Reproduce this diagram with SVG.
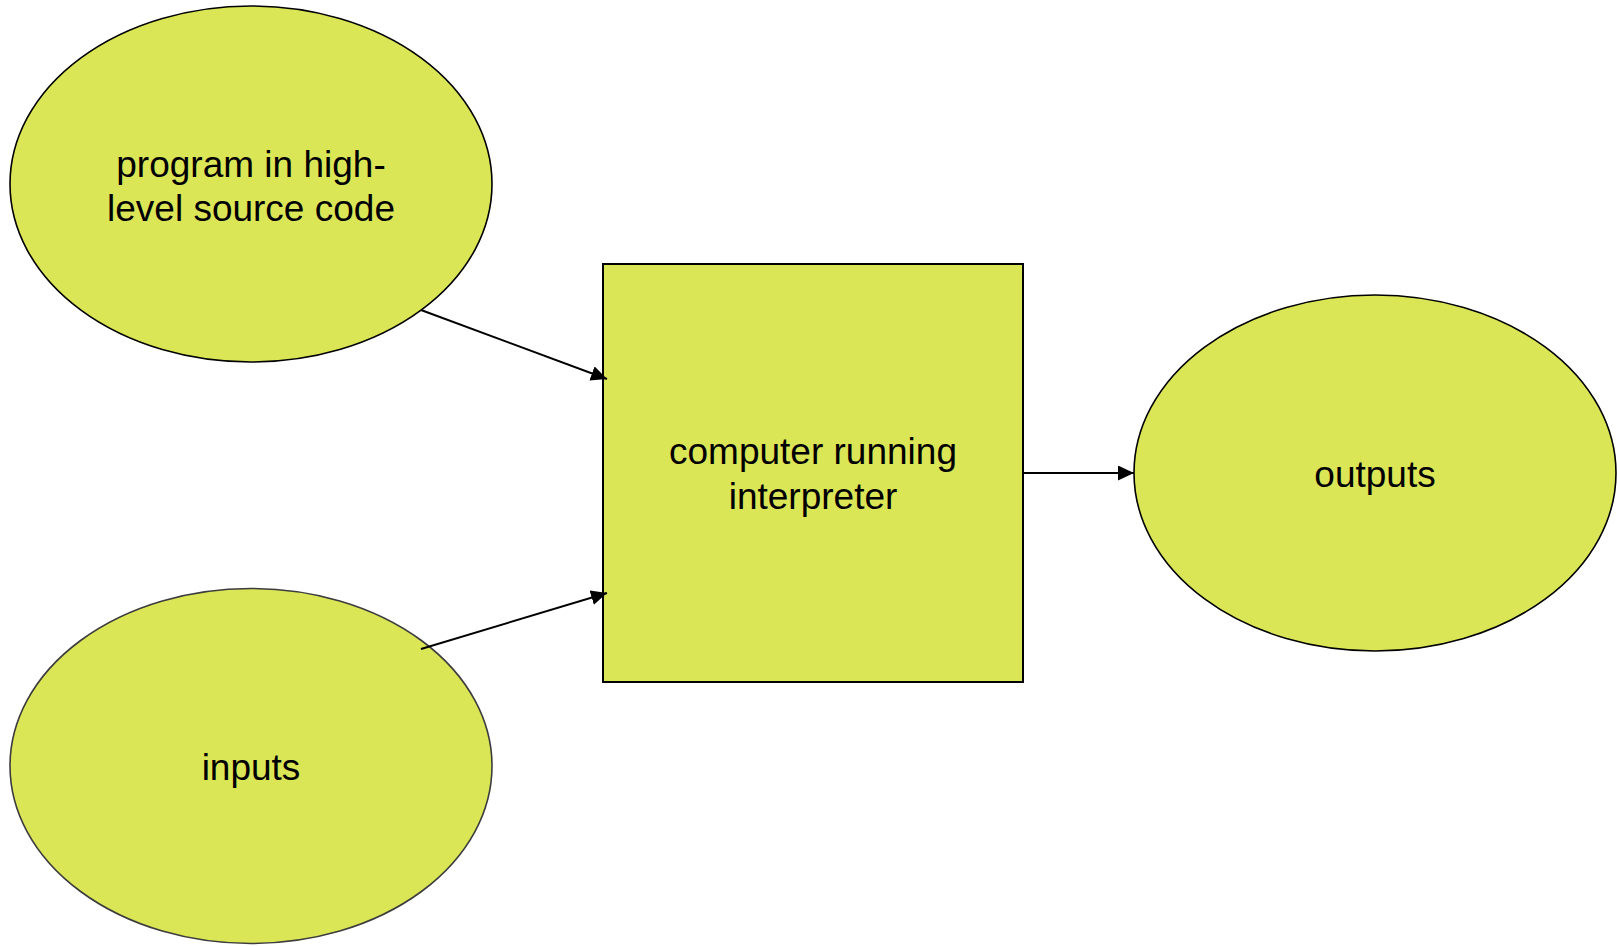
<svg xmlns="http://www.w3.org/2000/svg" width="1617" height="946" viewBox="0 0 1617 946">
  <style>
    .shape { fill: #dbe657; stroke: #000; stroke-width: 1.6; }
    .soft { stroke: #3c3c3c; }
    .label { font-family: "Liberation Sans", Arial, sans-serif; font-size: 37px; fill: #000; text-anchor: middle; }
    .edge { stroke: #000; stroke-width: 2; fill: none; marker-end: url(#arrow); }
  </style>
  <defs>
    <marker id="arrow" markerUnits="userSpaceOnUse" markerWidth="17" markerHeight="16" refX="16" refY="7.5" orient="auto">
      <path d="M0,0 L16,7.5 L0,15 z" fill="#000"/>
    </marker>
  </defs>
  <rect width="1617" height="946" fill="#fff"/>

  <g id="node-program">
    <ellipse class="shape" cx="251" cy="184" rx="241" ry="178"/>
    <text class="label" x="251" y="177">program in high-</text>
    <text class="label" x="251" y="221">level source code</text>
  </g>

  <g id="node-inputs">
    <ellipse class="shape soft" cx="251" cy="766" rx="241" ry="177.5"/>
    <text class="label" x="251" y="780">inputs</text>
  </g>

  <g id="node-interpreter">
    <rect class="shape" x="603" y="264" width="420" height="418" style="stroke-width:2"/>
    <text class="label" x="813" y="464">computer running</text>
    <text class="label" x="813" y="509">interpreter</text>
  </g>

  <g id="node-outputs">
    <ellipse class="shape" cx="1375" cy="473" rx="241" ry="178"/>
    <text class="label" x="1375" y="487">outputs</text>
  </g>

  <g id="connectors">
    <line class="edge" x1="421" y1="310" x2="607" y2="379"/>
    <line class="edge" x1="421" y1="649" x2="607" y2="593"/>
    <line class="edge" x1="1023" y1="473" x2="1134" y2="473"/>
  </g>
</svg>
